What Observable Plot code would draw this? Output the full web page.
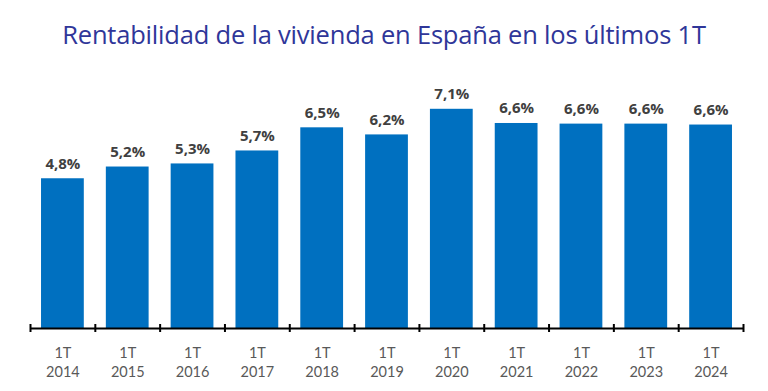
<!DOCTYPE html>
<html>
<head>
<meta charset="utf-8">
<script src="https://cdn.jsdelivr.net/npm/d3@7"></script>
<script src="https://cdn.jsdelivr.net/npm/@observablehq/plot@0.6"></script>
<style>
  html, body { margin: 0; padding: 0; background: #fff; }
  #wrap { width: 768px; height: 391px; overflow: hidden; }
  #title { height: 70px; box-sizing: border-box; padding-top: 17px; text-align: center;
    font-family: "Open Sans", sans-serif; font-size: 25.5px; color: #2F3699; letter-spacing: -0.2px; }
  svg { display: block; }
</style>
</head>
<body>
<div id="wrap">
  <div id="title">Rentabilidad de la vivienda en España en los últimos 1T</div>
  <div id="chart"></div>
</div>
<script>
const years = ["2014","2015","2016","2017","2018","2019","2020","2021","2022","2023","2024"];
const quarter = "1T";
const values = [4.85, 5.23, 5.33, 5.75, 6.50, 6.27, 7.10, 6.64, 6.62, 6.62, 6.59];
const valueLabels = ["4,8%","5,2%","5,3%","5,7%","6,5%","6,2%","7,1%","6,6%","6,6%","6,6%","6,6%"];

const data = years.map((y, i) => ({year: y, value: values[i], label: valueLabels[i]}));

const W = 768, H = 321, ML = 30, MR = 25;
const step = (W - ML - MR) / years.length;

const chart = Plot.plot({
  width: W,
  height: H,
  marginLeft: ML,
  marginRight: MR,
  marginTop: 11,
  marginBottom: 63,
  style: { fontFamily: "Open Sans, sans-serif", background: "#fff" },
  x: { domain: years, paddingInner: 0.34, paddingOuter: 0.17, round: false, label: null },
  y: { domain: [0, 8], axis: null },
  marks: [
    Plot.barY(data, { x: "year", y: "value", fill: "#0070C0" }),
    Plot.ruleY([0], { stroke: "#000", strokeWidth: 2 }),
    Plot.ruleX(years, { x: d => d, y1: 0, y2: 0, dx: -step / 2, insetTop: -4, insetBottom: -4, stroke: "#000", strokeWidth: 2 }),
    Plot.ruleX([years[years.length - 1]], { x: d => d, y1: 0, y2: 0, dx: step / 2, insetTop: -4, insetBottom: -4, stroke: "#000", strokeWidth: 2 }),
    Plot.text(data, { x: "year", y: "value", text: "label", dy: -15, lineAnchor: "middle",
      fontWeight: "bold", fontSize: 15, fill: "#404040" }),
    Plot.axisX({ tickSize: 0, tickPadding: 16, fontSize: 14.5, lineHeight: 1.3,
      fill: "#595959", tickFormat: d => quarter + "\n" + d, label: null,
      fontFamily: "Lato, sans-serif" })
  ]
});
document.getElementById("chart").appendChild(chart);
</script>
</body>
</html>
